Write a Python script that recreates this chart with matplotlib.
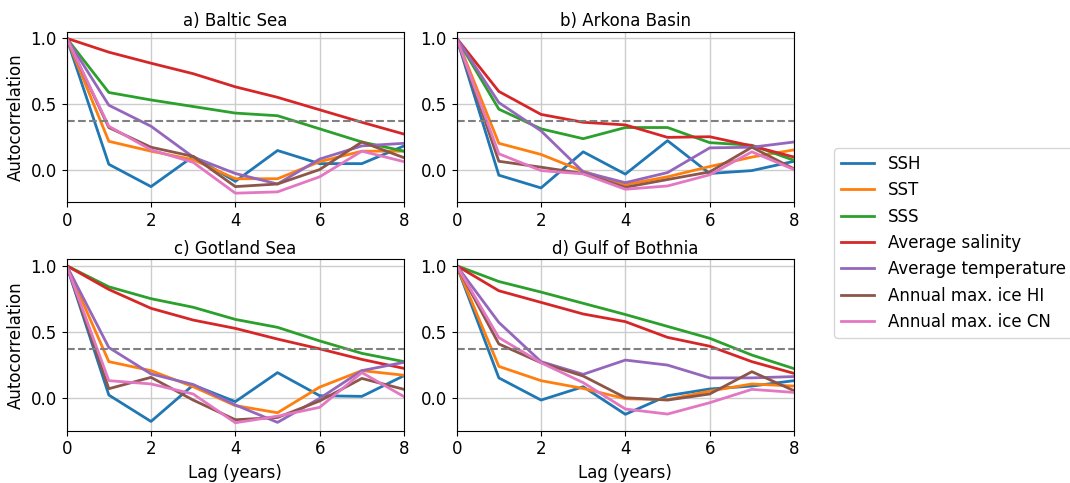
import matplotlib.pyplot as plt
import numpy as np

plt.rcParams['font.size'] = 12

lags = np.arange(0, 9)
titles = ['a) Baltic Sea', 'b) Arkona Basin', 'c) Gotland Sea', 'd) Gulf of Bothnia']
labels = ['SSH', 'SST', 'SSS', 'Average salinity', 'Average temperature',
          'Annual max. ice HI', 'Annual max. ice CN']

# autocorrelation per region, one list per variable (lag 0..8)
baltic = [
    [1.0, 0.04, -0.13, 0.10, -0.09, 0.145, 0.045, 0.045, 0.18],
    [1.0, 0.215, 0.14, 0.075, -0.07, -0.07, 0.06, 0.14, 0.14],
    [1.0, 0.587, 0.53, 0.48, 0.43, 0.41, 0.31, 0.21, 0.14],
    [1.0, 0.894, 0.81, 0.73, 0.63, 0.55, 0.455, 0.36, 0.27],
    [1.0, 0.49, 0.33, 0.095, -0.03, -0.11, 0.08, 0.18, 0.20],
    [1.0, 0.32, 0.17, 0.10, -0.13, -0.11, 0.0, 0.21, 0.09],
    [1.0, 0.33, 0.15, 0.055, -0.18, -0.17, -0.055, 0.14, 0.06],
]
arkona = [
    [1.0, -0.043, -0.14, 0.135, -0.035, 0.22, -0.03, -0.008, 0.063],
    [1.0, 0.20, 0.115, -0.013, -0.115, -0.055, 0.023, 0.095, 0.15],
    [1.0, 0.46, 0.31, 0.235, 0.32, 0.32, 0.205, 0.185, 0.07],
    [1.0, 0.595, 0.42, 0.36, 0.34, 0.245, 0.25, 0.18, 0.095],
    [1.0, 0.51, 0.295, -0.018, -0.10, -0.023, 0.165, 0.17, 0.21],
    [1.0, 0.063, 0.018, -0.03, -0.135, -0.076, -0.018, 0.17, 0.005],
    [1.0, 0.12, -0.008, -0.033, -0.15, -0.125, -0.04, 0.135, 0.0],
]
gotland = [
    [1.0, 0.02, -0.18, 0.096, -0.03, 0.19, 0.015, 0.01, 0.167],
    [1.0, 0.273, 0.205, 0.083, -0.06, -0.114, 0.08, 0.205, 0.17],
    [1.0, 0.84, 0.75, 0.685, 0.593, 0.533, 0.43, 0.336, 0.273],
    [1.0, 0.82, 0.677, 0.588, 0.525, 0.444, 0.37, 0.29, 0.222],
    [1.0, 0.38, 0.18, 0.10, -0.055, -0.187, -0.005, 0.205, 0.268],
    [1.0, 0.068, 0.154, -0.018, -0.167, -0.15, -0.025, 0.146, 0.063],
    [1.0, 0.129, 0.104, 0.028, -0.19, -0.14, -0.073, 0.19, 0.008],
]
bothnia = [
    [1.0, 0.15, -0.018, 0.083, -0.126, 0.015, 0.066, 0.088, 0.129],
    [1.0, 0.237, 0.129, 0.07, -0.008, -0.015, 0.05, 0.104, 0.088],
    [1.0, 0.88, 0.80, 0.715, 0.63, 0.54, 0.45, 0.323, 0.22],
    [1.0, 0.81, 0.722, 0.634, 0.576, 0.457, 0.39, 0.273, 0.184],
    [1.0, 0.57, 0.273, 0.177, 0.285, 0.247, 0.15, 0.15, 0.16],
    [1.0, 0.407, 0.265, 0.164, 0.0, -0.018, 0.028, 0.197, 0.053],
    [1.0, 0.455, 0.265, 0.114, -0.086, -0.124, -0.038, 0.063, 0.04],
]
regions = [baltic, arkona, gotland, bothnia]
threshold = 1 / np.e

fig = plt.figure(figsize=(10.7, 4.83), dpi=100)
positions = [
    [0.0623, 0.581, 0.3153, 0.3534],
    [0.4268, 0.581, 0.3153, 0.3534],
    [0.0623, 0.1083, 0.3153, 0.3553],
    [0.4268, 0.1083, 0.3153, 0.3553],
]
axes = []
for i, (pos, data) in enumerate(zip(positions, regions)):
    ax = fig.add_axes(pos)
    for series, lab in zip(data, labels):
        ax.plot(lags, series, lw=2, label=lab)
    ax.axhline(threshold, color='gray', ls='--', lw=1.5)
    ax.set_xlim(0, 8)
    ax.set_ylim(-0.25, 1.05)
    ax.set_xticks([0, 2, 4, 6, 8])
    ax.set_yticks([0.0, 0.5, 1.0])
    ax.grid(True, color='#cccccc', lw=1)
    ax.set_axisbelow(True)
    ax.set_title(titles[i], fontsize=12, pad=4)
    if i % 2 == 0:
        ax.set_ylabel('Autocorrelation')
    if i >= 2:
        ax.set_xlabel('Lag (years)')
    axes.append(ax)

handles, labs = axes[0].get_legend_handles_labels()
fig.legend(handles, labs, loc='center left', bbox_to_anchor=(0.772, 0.497))

plt.savefig('out.png', dpi=100)
